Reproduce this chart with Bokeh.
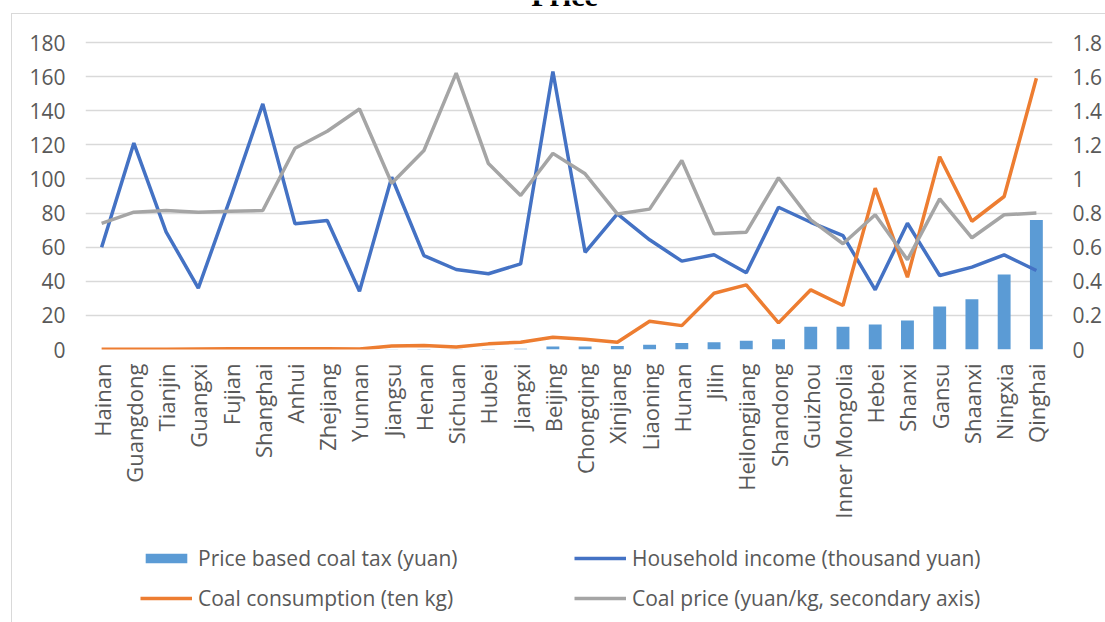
from bokeh.plotting import figure
from bokeh.layouts import column
from bokeh.models import (Range1d, LinearAxis, FixedTicker, Legend, LegendItem,
                          Label, CustomJSTickFormatter, ColumnDataSource, InlineStyleSheet)
from bokeh.embed import file_html
from bokeh.resources import INLINE

provinces = ["Hainan", "Guangdong", "Tianjin", "Guangxi", "Fujian", "Shanghai", "Anhui",
             "Zhejiang", "Yunnan", "Jiangsu", "Henan", "Sichuan", "Hubei", "Jiangxi",
             "Beijing", "Chongqing", "Xinjiang", "Liaoning", "Hunan", "Jilin",
             "Heilongjiang", "Shandong", "Guizhou", "Inner Mongolia", "Hebei", "Shanxi",
             "Gansu", "Shaanxi", "Ningxia", "Qinghai"]

coal_tax = [0.02, 0.02, 0.02, 0.03, 0.04, 0.04, 0.05, 0.04, 0.03, 0.2, 0.25, 0.15,
            0.35, 0.45, 1.8, 1.8, 2.0, 2.8, 3.8, 4.3, 5.2, 6.0, 13.4, 13.4, 14.7,
            17.0, 25.2, 29.5, 44.0, 76.0]

income = [60, 121, 69, 36, 89, 144, 73.7, 75.6, 34.2, 101, 55, 46.9, 44.4, 50.2,
          163, 57, 79.5, 64.3, 51.8, 55.5, 45, 83.4, 74.6, 66.8, 35, 74, 43.4,
          48.3, 55.5, 46.3]

consumption = [0.2, 0.2, 0.2, 0.3, 0.4, 0.4, 0.5, 0.4, 0.3, 2.0, 2.4, 1.4, 3.3, 4.3,
               7.2, 6.0, 4.2, 16.6, 14.0, 33.0, 37.9, 15.6, 35.0, 25.8, 94.6, 42.4,
               113.0, 75.2, 89.7, 159.0]

coal_price = [0.74, 0.805, 0.815, 0.805, 0.81, 0.815, 1.18, 1.28, 1.41, 0.975, 1.167,
              1.62, 1.09, 0.903, 1.15, 1.03, 0.795, 0.823, 1.108, 0.678, 0.688, 1.007,
              0.76, 0.62, 0.79, 0.526, 0.883, 0.655, 0.79, 0.80]

left_ticks = [0, 20, 40, 60, 80, 100, 120, 140, 160, 180]
right_ticks = [0, 0.2, 0.4, 0.6, 0.8, 1.0, 1.2, 1.4, 1.6, 1.8]
title_text = "Price"
series_names = ["Price based coal tax (yuan)", "Household income (thousand yuan)",
                "Coal consumption (ten kg)", "Coal price (yuan/kg, secondary axis)"]

C_BAR, C_INC, C_CON, C_PR = "#5B9BD5", "#4472C4", "#ED7D31", "#A5A5A5"
FONT = "Open Sans"
TXT = "#595959"
LW = 3.5

src = ColumnDataSource(dict(p=provinces, tax=coal_tax, inc=income, con=consumption, pr=coal_price))

# ---------------- main chart ----------------
Y_END = 180 * 349 / 307          # frame reaches the page top; 180 sits 42px below it
p = figure(width=1105, height=530, x_range=provinces, y_range=Range1d(0, Y_END),
           output_backend="svg", toolbar_location=None,
           min_border_left=85, min_border_right=53, min_border_top=0, min_border_bottom=181)
p.extra_y_ranges = {"price": Range1d(0, Y_END / 100)}
p.outline_line_color = None
p.background_fill_color = "white"
p.border_fill_color = "white"

p.vbar(x="p", top="tax", width=0.4, source=src, fill_color=C_BAR, line_color=None)
p.line(x="p", y="inc", source=src, line_color=C_INC, line_width=LW)
p.line(x="p", y="con", source=src, line_color=C_CON, line_width=LW)
p.line(x="p", y="pr", source=src, line_color=C_PR, line_width=LW, y_range_name="price")

p.xgrid.grid_line_color = None
p.ygrid.grid_line_color = "#D9D9D9"
p.ygrid.grid_line_width = 1.5
p.yaxis.ticker = FixedTicker(ticks=left_ticks)

def style_axis(ax, standoff, size):
    ax.axis_line_color = None
    ax.major_tick_line_color = None
    ax.minor_tick_line_color = None
    ax.major_tick_out = 0
    ax.major_tick_in = 0
    ax.minor_tick_out = 0
    ax.minor_tick_in = 0
    ax.major_label_text_font = FONT
    ax.major_label_text_font_size = size
    ax.major_label_text_color = TXT
    ax.major_label_standoff = standoff

style_axis(p.xaxis[0], 14, "22px")
style_axis(p.yaxis[0], 20, "21px")
p.xaxis.major_label_orientation = 3.14159265 / 2

ax2 = LinearAxis(y_range_name="price", ticker=FixedTicker(ticks=right_ticks),
                 formatter=CustomJSTickFormatter(code="return tick.toFixed(1).replace(/\\.0$/, '');"))
style_axis(ax2, 20, "21px")
p.add_layout(ax2, "right")

# chart title, mostly above the visible page
p.add_layout(Label(x=564 - 85, y=349 + 5, x_units="screen", y_units="screen", text=title_text,
                   text_font="Liberation Serif", text_font_style="bold", text_font_size="30px",
                   text_align="center", text_baseline="alphabetic", text_color="black"))

# ---------------- legend strip ----------------
lf = figure(width=1105, height=92, x_range=provinces, y_range=Range1d(0, 1),
            output_backend="svg", toolbar_location=None,
            x_axis_type=None, y_axis_type=None,
            min_border_left=0, min_border_right=0, min_border_top=0, min_border_bottom=0)
lf.outline_line_color = None
lf.grid.visible = False
lf.background_fill_color = "white"
lf.border_fill_color = "white"

# legend samples (the renderers themselves stay hidden in this strip)
g_bar = lf.vbar(x="p", top="tax", width=0.4, source=src, fill_color=C_BAR, line_color=None, visible=False)
g_inc = lf.line(x="p", y="inc", source=src, line_color=C_INC, line_width=LW, visible=False)
g_con = lf.line(x="p", y="con", source=src, line_color=C_CON, line_width=LW, visible=False)
g_pr = lf.line(x="p", y="pr", source=src, line_color=C_PR, line_width=LW, visible=False)

def mk_legend(items, x):
    lg = Legend(items=items, location=(x, 10), orientation="vertical",
                label_text_font=FONT, label_text_font_size="21px", label_text_color=TXT,
                glyph_width=52, glyph_height=12, label_standoff=6, spacing=12,
                label_height=24, padding=0, margin=0,
                border_line_color=None, background_fill_alpha=0)
    lf.add_layout(lg, "center")

mk_legend([LegendItem(label=series_names[0], renderers=[g_bar]),
           LegendItem(label=series_names[2], renderers=[g_con])], 140 - 85)
mk_legend([LegendItem(label=series_names[1], renderers=[g_inc]),
           LegendItem(label=series_names[3], renderers=[g_pr])], 574 - 85)

layout = column(p, lf, spacing=0, stylesheets=[InlineStyleSheet(css=(
    ":host{position:relative;}"
    ":host::after{content:'';position:absolute;left:11px;top:13px;width:1300px;height:900px;"
    "border:1.5px solid #D9D9D9;pointer-events:none;z-index:10;box-sizing:border-box;}"))])

open("out.html", "w").write(file_html(layout, INLINE))
